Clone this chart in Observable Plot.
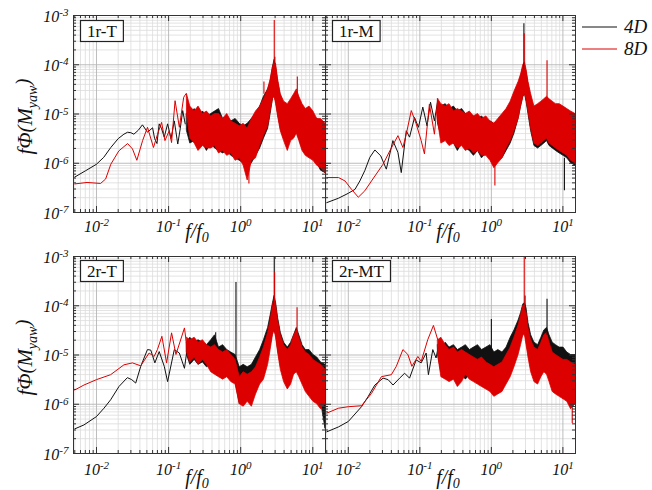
<!DOCTYPE html>
<html><head><meta charset="utf-8">
<script src="https://cdn.jsdelivr.net/npm/d3@7"></script>
<script src="https://cdn.jsdelivr.net/npm/@observablehq/plot@0.6"></script>
<style>
html,body{margin:0;padding:0;background:#fff;}
#chart{position:relative;width:652px;height:490px;overflow:hidden;background:#fff;}
#chart svg{position:absolute;}
</style></head><body><div id="chart"></div>
<script>
// ---------- data (y stored as log10 exponents) ----------
const panelLabels = ["1r-T", "1r-M", "2r-T", "2r-MT"];
const seriesNames = ["4D", "8D"];
const xTicks = [0.01, 0.1, 1, 10];
const xTickLabels = ["10^-2", "10^-1", "10^0", "10^1"];
const yTicks = [1e-7, 1e-6, 1e-5, 1e-4, 1e-3];
const yTickLabels = ["10^-7", "10^-6", "10^-5", "10^-4", "10^-3"];

// low-frequency smooth parts: [f/f0, log10(fPhi)]
const s1rT_4D = [[0.005,-6.28],[0.0071,-6.15],[0.010,-6.02],[0.0126,-5.88],[0.0158,-5.68],[0.020,-5.5],[0.024,-5.41],[0.027,-5.37],[0.030,-5.38],[0.033,-5.41],[0.038,-5.33],[0.0434,-5.22],[0.051,-5.37],[0.060,-5.28],[0.064,-5.5],[0.069,-5.6],[0.074,-5.2],[0.08,-5.3],[0.087,-5.47],[0.097,-5.2],[0.108,-5.5],[0.12,-5.14],[0.134,-5.61],[0.145,-5.3],[0.157,-4.93],[0.17,-5.2]];
const s1rT_8D = [[0.005,-6.42],[0.0074,-6.39],[0.0114,-6.41],[0.0134,-6.32],[0.0158,-6.02],[0.0204,-5.75],[0.027,-5.6],[0.0316,-5.71],[0.0363,-5.94],[0.0436,-5.54],[0.051,-5.27],[0.0617,-5.68],[0.0703,-5.41],[0.080,-5.17],[0.089,-5.54],[0.102,-5.34],[0.110,-5.58],[0.123,-4.73],[0.141,-5.27],[0.162,-4.66],[0.174,-4.59]];
const s1rM_4D = [[0.005,-6.8],[0.0073,-6.71],[0.010,-6.61],[0.0124,-6.53],[0.0145,-6.36],[0.017,-6.15],[0.020,-5.88],[0.0235,-5.73],[0.0284,-5.85],[0.034,-6.12],[0.042,-5.54],[0.0494,-5.78],[0.055,-6.19],[0.0646,-5.34],[0.0718,-5.47],[0.0843,-5.07],[0.0957,-5.27],[0.110,-4.86],[0.126,-5.24],[0.141,-4.76],[0.16,-5.14],[0.178,-4.73]];
const s1rM_8D = [[0.005,-6.29],[0.0073,-6.29],[0.009,-6.36],[0.0111,-6.53],[0.0138,-6.69],[0.017,-6.56],[0.0211,-6.36],[0.0306,-6.02],[0.038,-5.75],[0.0494,-5.44],[0.058,-5.68],[0.0646,-5.41],[0.0759,-4.93],[0.0889,-5.2],[0.1044,-5.54],[0.116,-5.81],[0.136,-4.8],[0.16,-5.41],[0.178,-4.69]];
const s2rT_4D = [[0.005,-6.5],[0.0067,-6.42],[0.010,-6.25],[0.0127,-6.08],[0.0157,-5.91],[0.0205,-5.64],[0.0268,-5.46],[0.0308,-5.5],[0.035,-5.57],[0.0411,-5.23],[0.0509,-4.89],[0.0566,-4.9],[0.0645,-5.16],[0.0741,-4.93],[0.0871,-5.23],[0.0969,-5.54],[0.12,-4.89],[0.141,-4.96],[0.166,-5.27],[0.18,-4.9]];
const s2rT_8D = [[0.005,-5.71],[0.0067,-5.61],[0.010,-5.5],[0.0157,-5.4],[0.024,-5.2],[0.0315,-5.16],[0.0411,-5.22],[0.0537,-4.96],[0.063,-5.03],[0.070,-4.89],[0.0807,-4.62],[0.0938,-5.16],[0.110,-4.55],[0.1265,-4.99],[0.166,-4.45],[0.18,-4.85]];
const s2rMT_4D = [[0.005,-6.56],[0.0073,-6.46],[0.010,-6.35],[0.0153,-6.05],[0.019,-5.84],[0.0235,-5.61],[0.0306,-5.47],[0.036,-5.5],[0.0422,-5.61],[0.0522,-5.47],[0.0613,-5.37],[0.0718,-5.47],[0.0889,-5.1],[0.1044,-5.16],[0.1225,-4.96],[0.1318,-5.4],[0.1517,-4.89],[0.1687,-5.06],[0.18,-4.85]];
const s2rMT_8D = [[0.005,-6.18],[0.0073,-6.08],[0.010,-6.05],[0.0153,-6.03],[0.0211,-5.78],[0.029,-5.44],[0.040,-5.4],[0.0469,-5.23],[0.058,-4.89],[0.068,-4.99],[0.0774,-5.23],[0.0938,-5.03],[0.1044,-5.13],[0.129,-4.69],[0.155,-4.4],[0.178,-4.69]];

// noisy high-frequency parts: lower / upper envelope (log10) at these frequencies
const fBand = [0.18,0.2,0.23,0.26,0.3,0.34,0.39,0.44,0.5,0.57,0.65,0.74,0.85,0.97,1.1,1.25,1.43,1.63,1.86,2.1,2.4,2.6,2.8,2.95,3.1,3.3,3.6,4.0,4.5,5.0,5.5,6.0,6.5,7.2,8.0,9.0,10.2,11.5,13,15];
const lo1rT_4D = [-5.35,-5.6,-5.55,-5.7,-5.6,-5.75,-5.6,-5.7,-5.75,-5.8,-5.75,-5.85,-5.9,-5.95,-6.0,-6.1,-6.0,-5.85,-5.7,-5.5,-5.3,-5.0,-4.7,-4.6,-4.75,-5.0,-5.3,-5.5,-5.6,-5.5,-5.45,-5.35,-5.5,-5.7,-5.8,-5.85,-5.9,-6.0,-6.15,-6.2];
const hi1rT_4D = [-5.0,-5.0,-4.9,-5.05,-4.95,-5.05,-5.0,-4.95,-4.9,-5.1,-5.05,-5.15,-5.1,-5.2,-5.25,-5.2,-5.1,-5.0,-4.85,-4.65,-4.5,-4.35,-4.05,-3.9,-4.05,-4.35,-4.65,-4.8,-4.85,-4.75,-4.65,-4.55,-4.7,-4.85,-4.95,-4.9,-5.05,-5.1,-5.15,-5.25];
const lo1rT_8D = [-5.0,-5.5,-5.6,-5.75,-5.65,-5.7,-5.7,-5.65,-5.8,-5.75,-5.85,-5.8,-5.95,-5.9,-6.05,-6.35,-5.95,-5.9,-5.65,-5.45,-5.25,-4.95,-4.7,-4.65,-4.8,-5.05,-5.35,-5.55,-5.75,-5.55,-5.5,-5.4,-5.55,-5.75,-5.85,-5.9,-5.95,-6.05,-6.1,-6.2];
const hi1rT_8D = [-4.6,-4.85,-4.95,-4.85,-5.0,-4.95,-5.05,-5.0,-5.0,-5.1,-5.0,-5.15,-5.2,-5.25,-5.2,-5.3,-5.1,-4.95,-4.85,-4.7,-4.5,-4.3,-4.05,-3.95,-4.0,-4.3,-4.6,-4.75,-4.8,-4.7,-4.6,-4.5,-4.65,-4.8,-4.9,-4.85,-4.95,-5.1,-5.1,-5.2];
const lo1rM_4D = [-5.2,-5.45,-5.5,-5.55,-5.6,-5.75,-5.6,-5.7,-5.75,-5.85,-5.75,-5.9,-5.8,-5.9,-6.0,-5.95,-5.9,-5.75,-5.6,-5.4,-5.1,-4.85,-4.65,-4.6,-4.75,-5.0,-5.35,-5.65,-5.7,-5.65,-5.6,-5.55,-5.65,-5.7,-5.75,-5.8,-5.85,-5.9,-6.0,-6.05];
const hi1rM_4D = [-4.75,-4.85,-4.8,-4.9,-4.85,-4.95,-4.9,-5.0,-5.0,-5.05,-5.1,-5.05,-5.15,-5.15,-5.2,-5.15,-5.05,-4.95,-4.8,-4.65,-4.45,-4.25,-4.05,-4.0,-4.15,-4.4,-4.7,-4.95,-5.0,-4.95,-4.9,-4.85,-4.95,-4.95,-5.05,-5.0,-5.1,-5.1,-5.15,-5.2];
const lo1rM_8D = [-5.15,-5.6,-5.55,-5.65,-5.6,-5.7,-5.65,-5.75,-5.7,-5.8,-5.75,-5.85,-5.85,-5.95,-6.1,-6.0,-5.9,-5.7,-5.55,-5.35,-5.1,-4.85,-4.65,-4.6,-4.7,-4.95,-5.3,-5.6,-5.65,-5.6,-5.55,-5.5,-5.6,-5.65,-5.7,-5.75,-5.8,-5.85,-5.95,-6.0];
const hi1rM_8D = [-4.7,-4.8,-4.85,-4.8,-4.95,-4.9,-4.95,-5.0,-4.95,-5.05,-5.0,-5.1,-5.05,-5.15,-5.2,-5.1,-5.0,-4.9,-4.75,-4.55,-4.35,-4.2,-4.0,-3.95,-4.1,-4.35,-4.6,-4.85,-4.8,-4.75,-4.7,-4.65,-4.7,-4.75,-4.8,-4.8,-4.85,-4.9,-4.95,-5.0];
const lo2rT_4D = [-5.0,-5.2,-5.1,-5.2,-5.15,-5.25,-5.2,-5.25,-5.3,-5.35,-5.4,-5.45,-5.55,-6.0,-5.85,-5.7,-5.8,-5.6,-5.45,-5.3,-5.05,-4.8,-4.55,-4.5,-4.6,-4.9,-5.2,-5.4,-5.5,-5.45,-5.3,-5.25,-5.35,-5.5,-5.6,-5.7,-5.75,-5.85,-5.95,-6.5];
const hi2rT_4D = [-4.75,-4.65,-4.75,-4.7,-4.75,-4.8,-4.7,-4.6,-4.85,-4.8,-4.9,-4.95,-5.0,-5.25,-5.2,-5.25,-5.2,-5.05,-4.9,-4.7,-4.45,-4.2,-3.95,-3.8,-3.95,-4.25,-4.55,-4.75,-4.85,-4.75,-4.6,-4.45,-4.6,-4.8,-4.9,-4.9,-5.0,-5.05,-5.15,-5.2];
const lo2rT_8D = [-4.95,-5.15,-5.05,-5.2,-5.1,-5.2,-5.35,-5.4,-5.45,-5.5,-5.45,-5.55,-5.6,-6.0,-6.05,-5.95,-6.05,-5.8,-5.6,-5.5,-5.2,-4.9,-4.6,-4.5,-4.65,-4.95,-5.3,-5.55,-5.7,-5.6,-5.4,-5.35,-5.45,-5.6,-5.75,-5.85,-5.95,-6.0,-6.1,-6.0];
const hi2rT_8D = [-4.65,-4.7,-4.65,-4.75,-4.7,-4.8,-4.85,-4.8,-4.9,-4.95,-4.9,-5.0,-5.1,-5.45,-5.35,-5.4,-5.35,-5.25,-5.05,-4.85,-4.55,-4.3,-4.0,-3.85,-4.0,-4.3,-4.6,-4.8,-4.9,-4.8,-4.6,-4.5,-4.65,-4.85,-4.95,-5.0,-5.1,-5.15,-5.2,-5.3];
const lo2rMT_4D = [-5.0,-5.35,-5.25,-5.4,-5.35,-5.45,-5.4,-5.5,-5.4,-5.45,-5.4,-5.5,-5.4,-5.45,-5.5,-5.45,-5.5,-5.4,-5.3,-5.15,-4.9,-4.7,-4.55,-4.55,-4.7,-4.95,-5.25,-5.45,-5.4,-5.3,-5.2,-5.25,-5.35,-5.45,-5.5,-5.45,-5.5,-5.55,-5.6,-5.6];
const hi2rMT_4D = [-4.8,-4.85,-4.75,-4.85,-4.8,-4.9,-4.85,-4.8,-4.9,-4.85,-4.8,-4.9,-4.85,-4.8,-4.95,-4.9,-4.95,-4.85,-4.65,-4.5,-4.3,-4.15,-3.97,-3.95,-4.05,-4.35,-4.6,-4.75,-4.8,-4.65,-4.5,-4.45,-4.6,-4.75,-4.8,-4.85,-4.85,-4.95,-5.0,-5.0];
const lo2rMT_8D = [-5.0,-5.45,-5.5,-5.55,-5.5,-5.65,-5.55,-5.4,-5.5,-5.55,-5.6,-5.65,-5.7,-5.75,-5.85,-5.8,-5.75,-5.6,-5.45,-5.25,-5.0,-4.8,-4.6,-4.6,-4.8,-5.05,-5.35,-5.55,-5.6,-5.45,-5.35,-5.4,-5.55,-5.75,-5.8,-5.85,-5.9,-5.95,-6.1,-6.0];
const hi2rMT_8D = [-4.7,-4.65,-4.8,-4.9,-4.85,-4.95,-4.9,-4.95,-5.0,-5.05,-5.1,-5.05,-5.15,-5.2,-5.25,-5.2,-5.15,-5.0,-4.85,-4.65,-4.4,-4.2,-4.0,-4.0,-4.15,-4.45,-4.7,-4.85,-4.9,-4.75,-4.6,-4.55,-4.75,-4.95,-5.0,-5.05,-5.1,-5.1,-5.15,-5.2];

// narrow spikes: [f/f0, from log10, to log10]
const sp1rT_4D = [[2.97,-4.0,-3.85]];
const sp1rT_8D = [[2.92,-4.1,-3.1],[6.1,-4.6,-4.25],[1.3,-6.0,-6.42],[2.1,-4.6,-4.35]];
const sp1rM_4D = [[2.85,-4.1,-3.17],[10.5,-5.9,-6.56]];
const sp1rM_8D = [[2.88,-4.1,-3.37],[6.0,-4.7,-3.92],[1.12,-5.9,-6.46]];
const sp2rT_4D = [[0.86,-5.1,-3.53],[2.92,-4.0,-3.0],[0.45,-4.8,-4.55]];
const sp2rT_8D = [[2.95,-4.0,-3.33],[6.05,-4.6,-4.04]];
const sp2rMT_4D = [[1.0,-4.9,-4.28],[6.0,-4.6,-3.87],[2.95,-4.1,-3.8]];
const sp2rMT_8D = [[2.88,-4.1,-3.0],[13.5,-5.8,-6.39]];

// ---------- drawing ----------
const BLACK = "#111111", RED = "#dd0000";
const FONT = "'Liberation Serif','Times New Roman',serif";
const X_DOMAIN = [0.0048, 15], Y_DOMAIN = [1e-7, 1e-3];
const FRAME_H = 197;
const chart = document.getElementById("chart");

const xMinor = [], yMinor = [];
for (let k = -3; k <= 1; k++) for (let m = 2; m <= 9; m++) { const v = m * 10 ** k; if (v > 0.0049 && v < 15) xMinor.push(v); }
for (let k = -7; k <= -4; k++) for (let m = 2; m <= 9; m++) yMinor.push(m * 10 ** k);

const panels = [
  {label: panelLabels[0], s4: s1rT_4D, s8: s1rT_8D, lo4: lo1rT_4D, hi4: hi1rT_4D, lo8: lo1rT_8D, hi8: hi1rT_8D, sp4: sp1rT_4D, sp8: sp1rT_8D,
   pos: {left: 0, top: 0, ml: 73, mr: 0, W: 252, mb: 40, showY: true, tickDy: 19, labDy: 26, boxDy: 5}},
  {label: panelLabels[1], s4: s1rM_4D, s8: s1rM_8D, lo4: lo1rM_4D, hi4: hi1rM_4D, lo8: lo1rM_8D, hi8: hi1rM_8D, sp4: sp1rM_4D, sp8: sp1rM_8D,
   pos: {left: 325, top: 0, ml: 0, mr: 27, W: 250, mb: 40, showY: false, tickDy: 19, labDy: 26, boxDy: 5}},
  {label: panelLabels[2], s4: s2rT_4D, s8: s2rT_8D, lo4: lo2rT_4D, hi4: hi2rT_4D, lo8: lo2rT_8D, hi8: hi2rT_8D, sp4: sp2rT_4D, sp8: sp2rT_8D,
   pos: {left: 0, top: 241, ml: 73, mr: 0, W: 252, mb: 37, showY: true, tickDy: 21, labDy: 31, boxDy: 4}},
  {label: panelLabels[3], s4: s2rMT_4D, s8: s2rMT_8D, lo4: lo2rMT_4D, hi4: hi2rMT_4D, lo8: lo2rMT_8D, hi8: hi2rMT_8D, sp4: sp2rMT_4D, sp8: sp2rMT_8D,
   pos: {left: 325, top: 241, ml: 0, mr: 27, W: 250, mb: 37, showY: false, tickDy: 21, labDy: 31, boxDy: 4}}
];

function supify(svg) {
  d3.select(svg).selectAll("text").each(function () {
    const m = /^10\^(-?\d+)$/.exec(this.textContent);
    if (!m) return;
    const t = d3.select(this);
    t.text(null);
    t.append("tspan").text("10");
    t.append("tspan").attr("dy", "-0.48em").attr("font-size", "11px").text(m[1]);
  });
}

function makePanel(p) {
  const {left, top, ml, mr, W, mb, showY, tickDy, labDy, boxDy} = p.pos;
  const H = FRAME_H, mt = 15;
  for (const a of [p.lo4, p.hi4, p.lo8, p.hi8]) if (a.length !== fBand.length) throw new Error("band length " + p.label);
  const lineRows = arr => arr.map(([f, e]) => ({f, v: 10 ** e}));
  const bandRows = (lo, hi) => fBand.map((f, i) => ({f, lo: 10 ** lo[i], hi: 10 ** hi[i]}));
  const spike = c => ({x: d => d[0], y1: d => 10 ** d[1], y2: d => 10 ** d[2], stroke: c, strokeWidth: 1.1});
  const tk = "#333";
  const marks = [
    Plot.ruleX(xMinor, {stroke: "#dcdcdc", strokeWidth: 0.8}),
    Plot.ruleY(yMinor, {stroke: "#dcdcdc", strokeWidth: 0.8}),
    Plot.ruleX(xTicks, {stroke: "#b5b5b5", strokeWidth: 0.9}),
    Plot.ruleY(yTicks, {stroke: "#b5b5b5", strokeWidth: 0.9}),
    Plot.line(lineRows(p.s4), {x: "f", y: "v", stroke: BLACK, strokeWidth: 1}),
    Plot.areaY(bandRows(p.lo4, p.hi4), {x: "f", y1: "lo", y2: "hi", fill: BLACK, stroke: BLACK, strokeWidth: 0.8}),
    Plot.line(lineRows(p.s8), {x: "f", y: "v", stroke: RED, strokeWidth: 1}),
    Plot.areaY(bandRows(p.lo8, p.hi8), {x: "f", y1: "lo", y2: "hi", fill: RED, stroke: RED, strokeWidth: 0.8}),
    Plot.ruleX(p.sp4, spike(BLACK)),
    Plot.ruleX(p.sp8, spike(RED)),
    Plot.frame({stroke: "#333"}),
    Plot.ruleX(xTicks, {insetTop: H - 6, stroke: tk}),
    Plot.ruleX(xTicks, {insetBottom: H - 6, stroke: tk}),
    Plot.ruleX(xMinor, {insetTop: H - 3, stroke: tk}),
    Plot.ruleX(xMinor, {insetBottom: H - 3, stroke: tk}),
    Plot.ruleY(yTicks, {insetRight: W - 6, stroke: tk}),
    Plot.ruleY(yTicks, {insetLeft: W - 6, stroke: tk}),
    Plot.ruleY(yMinor, {insetRight: W - 3, stroke: tk}),
    Plot.ruleY(yMinor, {insetLeft: W - 3, stroke: tk}),
    Plot.text(xTicks.map((v, i) => ({v, t: xTickLabels[i]})), {x: "v", text: "t", frameAnchor: "bottom", lineAnchor: "bottom", dy: tickDy, fontSize: 16, fontStyle: "italic", fill: "#111"})
  ];
  if (showY) marks.push(Plot.text(yTicks.map((v, i) => ({v, t: yTickLabels[i]})), {y: "v", text: "t", frameAnchor: "left", textAnchor: "end", lineAnchor: "bottom", dx: -5, dy: 6, fontSize: 16, fontStyle: "italic", fill: "#111"}));
  const svg = Plot.plot({
    width: ml + W + mr, height: mt + H + mb,
    marginLeft: ml, marginRight: mr, marginTop: mt, marginBottom: mb,
    x: {type: "log", domain: X_DOMAIN, axis: null},
    y: {type: "log", domain: Y_DOMAIN, axis: null},
    style: {background: "transparent", overflow: "visible", fontFamily: FONT, fontSize: "16px", color: "#111"},
    marks
  });
  svg.style.left = left + "px";
  svg.style.top = top + "px";
  chart.appendChild(svg);
  supify(svg);
  const s = d3.select(svg);
  // panel tag box
  const g = s.append("g").attr("text-anchor", "start");
  const tx = g.append("text").attr("x", ml + 14).attr("y", mt + boxDy + 16.5).attr("text-anchor", "start")
    .attr("font-family", FONT).attr("font-size", 17).attr("fill", "#111").text(p.label);
  const tw = tx.node().getComputedTextLength();
  g.insert("rect", "text").attr("x", ml + 7.5).attr("y", mt + boxDy + 0.5).attr("width", tw + 13).attr("height", 21)
    .attr("fill", "#fff").attr("stroke", "#222").attr("stroke-width", 1.2);
  // x label f/f0
  const xl = s.append("text").attr("x", ml + W / 2 - 2).attr("y", mt + H + labDy).attr("text-anchor", "middle")
    .attr("font-family", FONT).attr("font-size", 20).attr("font-style", "italic").attr("fill", "#111");
  xl.append("tspan").text("f/f");
  xl.append("tspan").attr("dy", "0.3em").attr("font-size", 14).text("0");
  // y label
  if (showY) {
    const yl = s.append("text").attr("transform", `translate(32,${mt + H / 2 + 3}) rotate(-90)`).attr("text-anchor", "middle")
      .attr("font-family", FONT).attr("font-size", 21).attr("font-style", "italic").attr("fill", "#111");
    yl.append("tspan").text("fΦ(M");
    yl.append("tspan").attr("dy", "0.35em").attr("font-size", 14).text("yaw");
    yl.append("tspan").attr("dy", "-0.35em").text(")");
  }
}

panels.forEach(makePanel);

// legend
const leg = d3.select(chart).append("svg").attr("width", 77).attr("height", 70)
  .style("left", "575px").style("top", "0px").style("overflow", "visible");
[[seriesNames[0], BLACK, 27], [seriesNames[1], RED, 49]].forEach(([name, c, y]) => {
  leg.append("line").attr("x1", 7).attr("x2", 42).attr("y1", y).attr("y2", y).attr("stroke", c).attr("stroke-width", 1);
  leg.append("text").attr("x", 49).attr("y", y + 6).attr("font-family", FONT).attr("font-size", 19)
    .attr("font-style", "italic").attr("fill", "#111").text(name);
});
</script></body></html>
